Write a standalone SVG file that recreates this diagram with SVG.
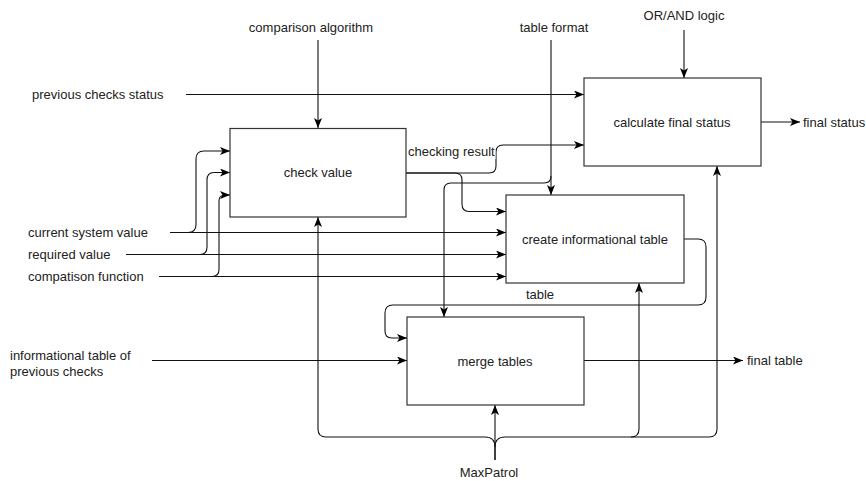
<svg xmlns="http://www.w3.org/2000/svg" width="866" height="481" viewBox="0 0 866 481">
<defs>
<marker id="arr" markerUnits="userSpaceOnUse" markerWidth="12" markerHeight="10" refX="10" refY="4" orient="auto">
<path d="M0,0 L10,4 L0,8 L2.5,4 Z" fill="#000"/>
</marker>
<style>
text{font-family:"Liberation Sans",Arial,sans-serif;font-size:13px;fill:#222}
.box{fill:#fff;stroke:#333;stroke-width:1.2}
.c{fill:none;stroke:#111;stroke-width:1.1}
.a{marker-end:url(#arr)}
.m{text-anchor:middle}
</style>
</defs>
<rect width="866" height="481" fill="#fff"/>
<g id="connectors">
<path class="c a" d="M318,40 V128"/>
<path class="c a" d="M684,30 V78"/>
<path class="c a" d="M186,94.5 H584"/>
<path class="c a" d="M551,40 V195"/>
<path class="c a" d="M551,176 Q551,183 544,183 H451 Q444,183 444,190 V317"/>
<path class="c a" d="M406,173 H489 Q496,173 496,166 V152 Q496,145 503,145 H584"/>
<path class="c a" d="M406,173 H455 Q462,173 462,180 V204 Q462,211.5 469,211.5 H506"/>
<path class="c a" d="M170,232.5 H188 Q196,232.5 196,224.5 V159 Q196,151 204,151 H230"/>
<path class="c a" d="M170,232.5 H506"/>
<path class="c a" d="M126,254.5 H200 Q207,254.5 207,247 V180 Q207,172.5 214,172.5 H230"/>
<path class="c a" d="M126,254.5 H506"/>
<path class="c a" d="M159,276.5 H212 Q219,276.5 219,269.5 V201 Q219,195 225,195 H230"/>
<path class="c a" d="M159,276.5 H506"/>
<path class="c a" d="M761,122 H800"/>
<path class="c a" d="M684,239 H698 Q706,239 706,247 V297 Q706,305 698,305 H393 Q385,305 385,313 V331 Q385,338 392,338 H407"/>
<path class="c a" d="M152,360.5 H407"/>
<path class="c a" d="M584,360.5 H743"/>
<path class="c a" d="M495,460 V405"/>
<path class="c a" d="M495,460 V447 Q495,437 485,437 H326 Q318,437 318,429 V217"/>
<path class="c a" d="M495,447 Q495,437 505,437 H631 Q639,437 639,429 V283"/>
<path class="c a" d="M631,437 H709 Q717,437 717,429 V166"/>
</g>
<g id="check-value">
<rect class="box" x="230" y="128.5" width="176" height="88.5"/>
<text class="m" x="318" y="177">check value</text>
</g>
<g id="calculate-final-status">
<rect class="box" x="584" y="78" width="177" height="88"/>
<text class="m" x="672" y="127">calculate final status</text>
</g>
<g id="create-informational-table">
<rect class="box" x="506" y="195" width="178" height="88"/>
<text class="m" x="595" y="243.5">create informational table</text>
</g>
<g id="merge-tables">
<rect class="box" x="407" y="317" width="177" height="88"/>
<text class="m" x="495" y="365.5">merge tables</text>
</g>
<g id="labels">
<text class="m" x="311" y="32">comparison algorithm</text>
<text class="m" x="554" y="32">table format</text>
<text class="m" x="684" y="20">OR/AND logic</text>
<text x="32" y="99">previous checks status</text>
<rect x="407.5" y="144" width="88" height="15" fill="#fff"/>
<text x="408" y="156">checking result</text>
<text x="28" y="237">current system value</text>
<text x="28" y="259">required value</text>
<text x="28" y="281">compatison function</text>
<text x="803" y="126.5">final status</text>
<text class="m" x="540" y="299">table</text>
<text x="10" y="360">informational table of</text>
<text x="10" y="376">previous checks</text>
<text x="747" y="365">final table</text>
<text class="m" x="489" y="477">MaxPatrol</text>
</g>
</svg>
